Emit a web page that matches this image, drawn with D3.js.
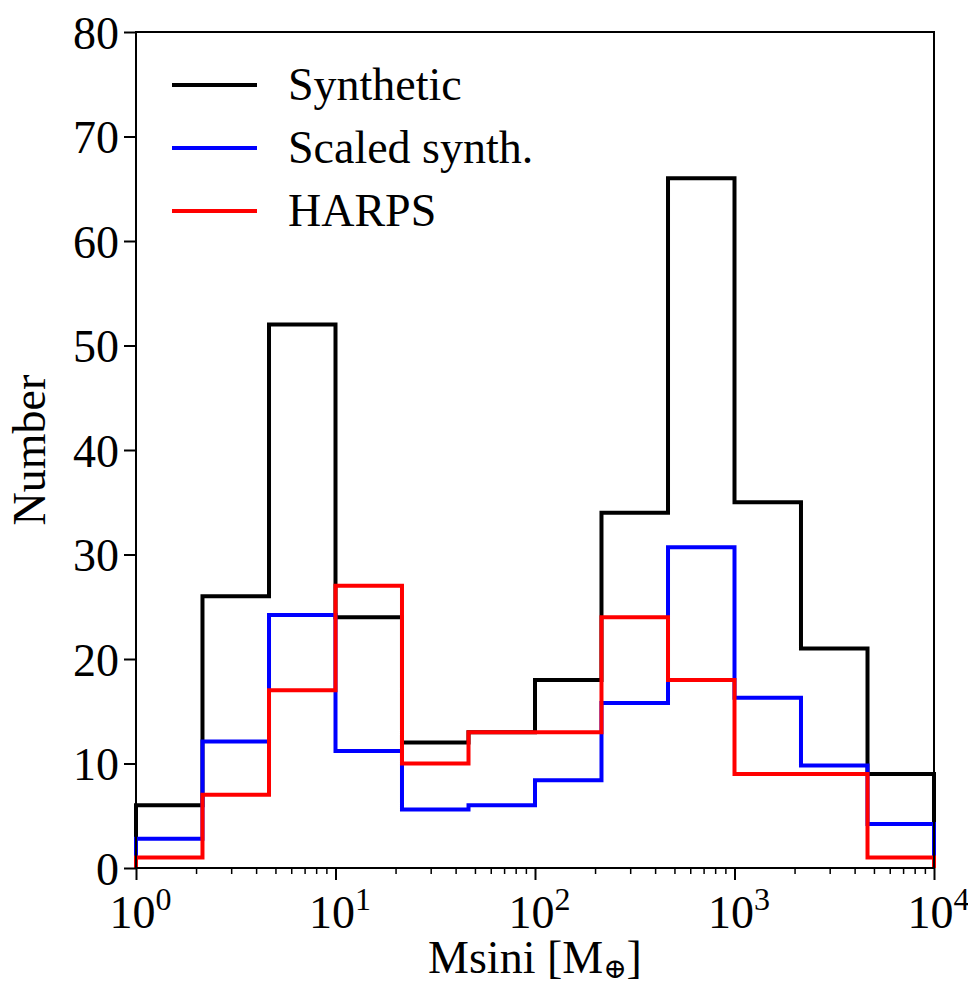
<!DOCTYPE html>
<html>
<head>
<meta charset="utf-8">
<script src="https://cdn.jsdelivr.net/npm/d3@7"></script>
<style>
  body { margin: 0; background: #fff; }
  text { font-family: "Liberation Serif", "DejaVu Serif", serif; fill: #000; }
</style>
</head>
<body>
<div id="chart"></div>
<script>
// bin edges (3 per decade) and counts per bin
const binEdges = [1, 2.154, 4.642, 10, 21.54, 46.42, 100, 215.4, 464.2, 1000, 2154, 4642, 10000];
const synthetic = [6, 26, 52, 24, 12, 13, 18, 34, 66, 35, 21, 9];
const scaledSynth = [2.8, 12.1, 24.2, 11.2, 5.6, 6.0, 8.4, 15.8, 30.7, 16.3, 9.8, 4.2];
const harps = [1, 7, 17, 27, 10, 13, 13, 24, 18, 9, 9, 1];

const seriesNames = ['Synthetic', 'Scaled synth.', 'HARPS'];
const seriesColors = ['#000000', '#0000ff', '#ff0000'];
const yTicks = [0, 10, 20, 30, 40, 50, 60, 70, 80];
const xTicks = [1, 10, 100, 1000, 10000];

const width = 968;
const height = 985;
const margin = {top: 32, right: 34, bottom: 117, left: 136};
const fontSize = 46;

const svg = d3.select('#chart')
  .append('svg')
  .attr('width', width)
  .attr('height', height);

const x = d3.scaleLog()
  .domain([1, 10000])
  .range([margin.left, width - margin.right]);

const y = d3.scaleLinear()
  .domain([0, 80])
  .range([height - margin.bottom, margin.top]);

// step outline like matplotlib histtype='step'
function stepPath(counts) {
  const pts = [[binEdges[0], 0]];
  counts.forEach((c, i) => {
    pts.push([binEdges[i], c]);
    pts.push([binEdges[i + 1], c]);
  });
  pts.push([binEdges[binEdges.length - 1], 0]);
  return d3.line().x(d => x(d[0])).y(d => y(d[1]))(pts);
}

const plot = svg.append('g').attr('class', 'hists');
[synthetic, scaledSynth, harps].forEach((s, i) => {
  plot.append('path')
    .attr('d', stepPath(s))
    .attr('fill', 'none')
    .attr('stroke', seriesColors[i])
    .attr('stroke-width', 4)
    .attr('stroke-linejoin', 'miter');
});

// frame
svg.append('rect')
  .attr('x', x(1))
  .attr('y', y(80))
  .attr('width', x(10000) - x(1))
  .attr('height', y(0) - y(80))
  .attr('fill', 'none')
  .attr('stroke', '#000')
  .attr('stroke-width', 2);

// y axis
const yAxis = svg.append('g')
  .attr('transform', `translate(${margin.left},0)`)
  .call(d3.axisLeft(y).tickValues(yTicks).tickSize(12).tickPadding(5));
yAxis.select('.domain').remove();
yAxis.selectAll('line').attr('stroke-width', 2);
yAxis.selectAll('text')
  .attr('font-size', fontSize)
  .attr('font-family', '"Liberation Serif", serif')
  .attr('dy', '0.35em');

// x axis: majors with superscript labels, minors 2..9
const minorTicks = [];
for (let d = 1; d < 10000; d *= 10) {
  for (let k = 2; k <= 9; k++) minorTicks.push(d * k);
}
const xMinor = svg.append('g')
  .attr('transform', `translate(0,${height - margin.bottom})`)
  .call(d3.axisBottom(x).tickValues(minorTicks).tickSize(6).tickFormat(''));
xMinor.select('.domain').remove();
xMinor.selectAll('line').attr('stroke-width', 1.5);

const xAxis = svg.append('g')
  .attr('transform', `translate(0,${height - margin.bottom})`)
  .call(d3.axisBottom(x).tickValues(xTicks).tickSize(12).tickFormat(''));
xAxis.select('.domain').remove();
xAxis.selectAll('line').attr('stroke-width', 2);

xAxis.selectAll('.tick').each(function(d) {
  const t = d3.select(this).append('text')
    .attr('x', 4)
    .attr('y', 60)
    .attr('font-size', fontSize)
    .attr('text-anchor', 'middle')
    .attr('fill', '#000');
  t.append('tspan').text('10');
  t.append('tspan')
    .attr('dy', -18)
    .attr('font-size', 32)
    .text(Math.round(Math.log10(d)));
});

// axis labels
const xl = svg.append('text')
  .attr('x', (x(1) + x(10000)) / 2)
  .attr('y', 973)
  .attr('text-anchor', 'middle')
  .attr('font-size', fontSize);
xl.append('tspan').text('Msini [M');
xl.append('tspan').attr('dy', 5).attr('font-size', 28).text('\u2295');
xl.append('tspan').attr('dy', -5).text(']');

svg.append('text')
  .attr('transform', `translate(45,${(y(0) + y(80)) / 2}) rotate(-90)`)
  .attr('text-anchor', 'middle')
  .attr('font-size', fontSize)
  .text('Number');

// legend
const legend = svg.append('g').attr('class', 'legend');
seriesNames.forEach((name, i) => {
  const ly = 85 + i * 63;
  legend.append('line')
    .attr('x1', 172).attr('x2', 257)
    .attr('y1', ly).attr('y2', ly)
    .attr('stroke', seriesColors[i])
    .attr('stroke-width', 4);
  legend.append('text')
    .attr('x', 288)
    .attr('y', ly + 15)
    .attr('font-size', fontSize)
    .text(name);
});
</script>
</body>
</html>
